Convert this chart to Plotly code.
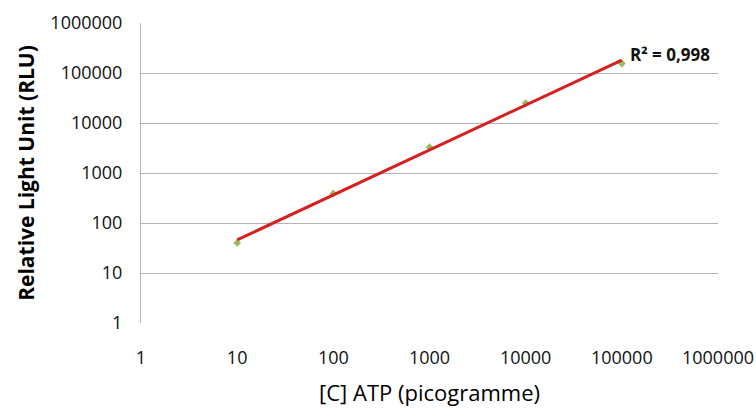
import numpy as np
import plotly.graph_objects as go

# Data
atp_pg = [10, 100, 1000, 10000, 100000]
rlu = [40, 390, 3300, 25000, 155000]
r2_label = "R² = 0,998"
tick_vals = [1, 10, 100, 1000, 10000, 100000, 1000000]
tick_text = ["1", "10", "100", "1000", "10000", "100000", "1000000"]

# Power trendline (linear fit in log-log space)
lx = np.log10(atp_pg)
ly = np.log10(rlu)
slope, intercept = np.polyfit(lx, ly, 1)
fit_x = [atp_pg[0], atp_pg[-1]]
fit_y = [10 ** (intercept + slope * np.log10(v)) for v in fit_x]

fig = go.Figure()
fig.add_trace(go.Scatter(
    x=atp_pg, y=rlu, mode="markers",
    marker=dict(symbol="diamond", size=6, color="#9BBB59"),
    showlegend=False,
))
fig.add_trace(go.Scatter(
    x=fit_x, y=fit_y, mode="lines",
    line=dict(color="#D42020", width=3),
    showlegend=False,
))

fig.add_annotation(
    x=np.log10(fit_x[-1]), y=np.log10(fit_y[-1]),
    xref="x", yref="y", text="<b>" + r2_label + "</b>",
    showarrow=False, xanchor="left", yanchor="middle",
    xshift=6, yshift=6,
    font=dict(family="Open Sans", size=17, color="#111111"),
)

fig.update_xaxes(
    type="log", range=[0, 6], tickvals=tick_vals, ticktext=tick_text,
    showgrid=False, showline=False, zeroline=False, ticks="",
    automargin=False,
    ticklabelstandoff=22,
    tickfont=dict(family="Open Sans", size=18, color="#111111"),
    title=dict(text="[C] ATP (picogramme)", standoff=17,
               font=dict(family="Open Sans", size=22, color="#000000")),
)
fig.update_yaxes(
    type="log", range=[0, 6], tickvals=tick_vals, ticktext=tick_text,
    showgrid=True, gridcolor="#B4B4B4", gridwidth=1,
    showline=True, linecolor="#B4B4B4", linewidth=1, zeroline=False, ticks="",
    automargin=False,
    ticklabelstandoff=14,
    tickfont=dict(family="Open Sans", size=18, color="#111111"),
    title=dict(text="<b>Relative Light Unit (RLU)</b>", standoff=10,
               font=dict(family="Open Sans", size=21, color="#000000")),
)

fig.update_layout(
    width=756, height=410,
    margin=dict(l=141, r=38, t=23, b=87),
    paper_bgcolor="white", plot_bgcolor="white",
)

fig.write_html("out.html", config={"displayModeBar": False},
               post_script="document.body.style.margin='0px';")
